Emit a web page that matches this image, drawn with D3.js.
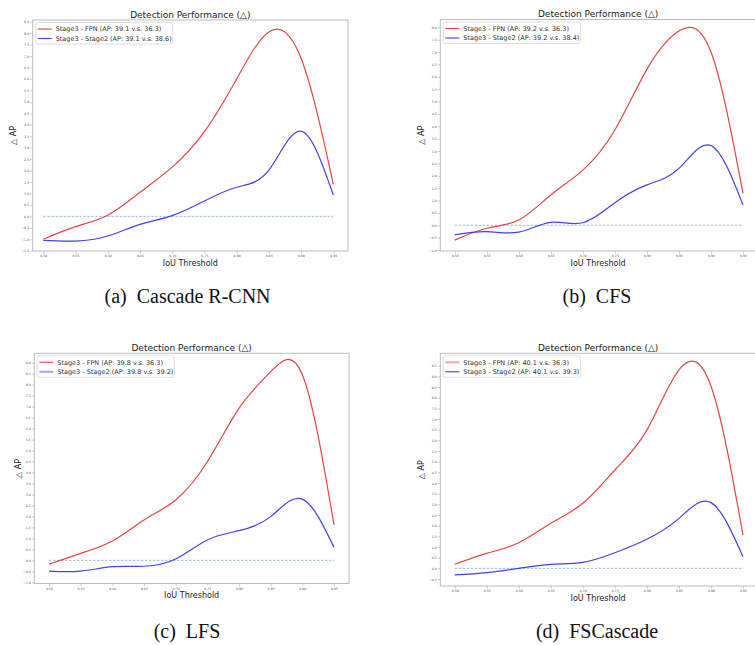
<!DOCTYPE html>
<html>
<head>
<meta charset="utf-8">
<script src="https://cdn.jsdelivr.net/npm/d3@7"></script>
<style>
  body { margin: 0; background: #fff; }
  svg { display: block; }
  .cap { white-space: pre; }
</style>
</head>
<body>
<svg id="fig" width="755" height="645"></svg>
<script>
// x values shared by all four runs
const iouThresholds = [0.50, 0.55, 0.60, 0.65, 0.70, 0.75, 0.80, 0.85, 0.90, 0.95];

// delta AP, one pair of series per method
const fpnDeltaA    = [-1.00, -0.45, 0.05, 1.05, 2.15, 3.70, 6.00, 8.05, 6.90, 1.40];
const stage2DeltaA = [-1.05, -1.08, -0.86, -0.35, 0.03, 0.67, 1.27, 2.02, 3.72, 0.93];
const fpnDeltaB    = [-0.60, -0.12, 0.21, 1.22, 2.23, 3.85, 6.30, 7.85, 7.00, 1.29];
const stage2DeltaB = [-0.39, -0.26, -0.28, 0.12, 0.10, 0.91, 1.63, 2.30, 3.22, 0.82];
const fpnDeltaC    = [-0.18, 0.32, 0.88, 1.84, 2.75, 4.49, 6.92, 8.59, 8.45, 1.61];
const stage2DeltaC = [-0.49, -0.49, -0.29, -0.27, 0.06, 0.93, 1.35, 1.99, 2.79, 0.59];
const fpnDeltaD    = [0.19, 0.70, 1.20, 2.11, 3.05, 4.61, 6.48, 9.30, 8.55, 1.56];
const stage2DeltaD = [-0.31, -0.20, 0.00, 0.19, 0.28, 0.73, 1.36, 2.34, 3.08, 0.54];

// y tick labels of each panel
const yTicksA = [-1.5, -1.0, -0.5, 0.0, 0.5, 1.0, 1.5, 2.0, 2.5, 3.0, 3.5, 4.0, 4.5, 5.0, 5.5, 6.0, 6.5, 7.0, 7.5, 8.0, 8.5];
const yTicksB = [-1.0, -0.5, 0.0, 0.5, 1.0, 1.5, 2.0, 2.5, 3.0, 3.5, 4.0, 4.5, 5.0, 5.5, 6.0, 6.5, 7.0, 7.5, 8.0];
const yTicksC = [-1.0, -0.5, 0.0, 0.5, 1.0, 1.5, 2.0, 2.5, 3.0, 3.5, 4.0, 4.5, 5.0, 5.5, 6.0, 6.5, 7.0, 7.5, 8.0, 8.5, 9.0];
const yTicksD = [-0.5, 0.0, 0.5, 1.0, 1.5, 2.0, 2.5, 3.0, 3.5, 4.0, 4.5, 5.0, 5.5, 6.0, 6.5, 7.0, 7.5, 8.0, 8.5, 9.0, 9.5];

const fpnLegend = [
  "Stage3 - FPN (AP: 39.1 v.s. 36.3)",
  "Stage3 - FPN (AP: 39.2 v.s. 36.3)",
  "Stage3 - FPN (AP: 39.8 v.s. 36.3)",
  "Stage3 - FPN (AP: 40.1 v.s. 36.3)"
];
const stage2Legend = [
  "Stage3 - Stage2 (AP: 39.1 v.s. 38.6)",
  "Stage3 - Stage2 (AP: 39.2 v.s. 38.4)",
  "Stage3 - Stage2 (AP: 39.8 v.s. 39.2)",
  "Stage3 - Stage2 (AP: 40.1 v.s. 39.3)"
];
const captions = ["(a)  Cascade R-CNN", "(b)  CFS", "(c)  LFS", "(d)  FSCascade"];
const titleText = "Detection Performance (\u25B3)";

const RED = "#e24646", BLUE = "#4343e6";

// pixel layout of the four sub figures
const layout = [
  { box: [32.7, 20, 348, 251],   xPx: [43.3, 333.3], yPx: [250.7, 21.7], ylabX: 13.3, capX: 187.5, capY: 303 },
  { box: [440.3, 19.5, 757, 251], xPx: [454.7, 743], yPx: [250, 27.3],   ylabX: 421.3, capX: 597, capY: 303 },
  { box: [34.3, 353.3, 349, 583.5], xPx: [49, 334],  yPx: [582.3, 362.7], ylabX: 18.3, capX: 187, capY: 638 },
  { box: [440.3, 353.3, 757, 586], xPx: [454.7, 743], yPx: [579, 365.7], ylabX: 421.3, capX: 597, capY: 638 }
];
const panels = [
  { fpn: fpnDeltaA, st2: stage2DeltaA, ticks: yTicksA },
  { fpn: fpnDeltaB, st2: stage2DeltaB, ticks: yTicksB },
  { fpn: fpnDeltaC, st2: stage2DeltaC, ticks: yTicksC, fadeSt2Key: true },
  { fpn: fpnDeltaD, st2: stage2DeltaD, ticks: yTicksD, fadeFpnKey: true }
];

const svg = d3.select("#fig");
const sans = "DejaVu Sans, sans-serif";

panels.forEach((p, i) => {
  const L = layout[i];
  const [bx0, by0, bx1, by1] = L.box;
  const g = svg.append("g");

  const x = d3.scaleLinear()
    .domain([iouThresholds[0], iouThresholds[iouThresholds.length - 1]])
    .range(L.xPx);
  const y = d3.scaleLinear()
    .domain([p.ticks[0], p.ticks[p.ticks.length - 1]])
    .range(L.yPx);

  // frame
  g.append("rect")
    .attr("x", bx0).attr("y", by0)
    .attr("width", bx1 - bx0).attr("height", by1 - by0)
    .attr("fill", "none").attr("stroke", "#bdbdbd").attr("stroke-width", 1);

  // axes
  const yAxis = g.append("g")
    .attr("transform", `translate(${bx0},0)`)
    .call(d3.axisLeft(y).tickValues(p.ticks).tickSize(2.5).tickPadding(1).tickFormat(d3.format(".1f")));
  const xAxis = g.append("g")
    .attr("transform", `translate(0,${by1})`)
    .call(d3.axisBottom(x).tickValues(iouThresholds).tickSize(2.5).tickPadding(1.5).tickFormat(d3.format(".2f")));
  [yAxis, xAxis].forEach(a => {
    a.select(".domain").remove();
    a.selectAll("line").attr("stroke", "#999").attr("stroke-width", 0.5);
    a.selectAll("text").attr("fill", "#555").style("font-family", sans).style("font-size", "3.2px");
  });

  // zero reference
  g.append("line")
    .attr("x1", x(iouThresholds[0])).attr("x2", x(iouThresholds[iouThresholds.length - 1]))
    .attr("y1", y(0)).attr("y2", y(0))
    .attr("stroke", "#8db6de").attr("stroke-width", 0.9).attr("stroke-dasharray", "2.5,1.5");

  const line = d3.line()
    .x((d, k) => x(iouThresholds[k]))
    .y(d => y(d))
    .curve(d3.curveNatural);

  g.append("path").datum(p.fpn).attr("d", line)
    .attr("fill", "none").attr("stroke", RED).attr("stroke-width", 1.2);
  g.append("path").datum(p.st2).attr("d", line)
    .attr("fill", "none").attr("stroke", BLUE).attr("stroke-width", 1.2);

  // title and axis labels
  g.append("text")
    .attr("x", (bx0 + Math.min(bx1, 756)) / 2).attr("y", by0 - 2.5)
    .attr("text-anchor", "middle").attr("fill", "#222")
    .style("font-family", sans).style("font-size", "9px")
    .text(titleText);
  g.append("text")
    .attr("x", (bx0 + Math.min(bx1, 756)) / 2).attr("y", by1 + 14.5)
    .attr("text-anchor", "middle").attr("fill", "#222")
    .style("font-family", sans).style("font-size", "8px")
    .text("IoU Threshold");
  g.append("text")
    .attr("transform", `translate(${L.ylabX},${(by0 + by1) / 2}) rotate(-90)`)
    .attr("dy", "0.35em")
    .attr("text-anchor", "middle").attr("fill", "#222")
    .style("font-family", sans).style("font-size", "8px")
    .text("\u25B3 AP");

  // legend
  const lg = g.append("g").attr("transform", `translate(${bx0 + 3},${by0 + 2.5})`);
  lg.append("rect")
    .attr("width", 137).attr("height", 21.5).attr("rx", 1.5)
    .attr("fill", "#fff").attr("stroke", "#d6d6d6").attr("stroke-width", 0.8);
  const keys = [
    { text: fpnLegend[i], color: RED, faded: p.fadeFpnKey },
    { text: stage2Legend[i], color: BLUE, faded: p.fadeSt2Key }
  ];
  keys.forEach((k, j) => {
    const ky = 6.5 + j * 9.5;
    lg.append("line")
      .attr("x1", 2).attr("x2", 16).attr("y1", ky).attr("y2", ky)
      .attr("stroke", k.color)
      .attr("stroke-width", k.faded ? 2.2 : 1.1)
      .attr("stroke-opacity", k.faded ? 0.45 : 1);
    lg.append("text")
      .attr("x", 20).attr("y", ky).attr("dy", "0.35em")
      .attr("fill", "#333")
      .style("font-family", sans).style("font-size", "6.5px")
      .text(k.text);
  });

  // caption under the sub figure
  g.append("text")
    .attr("class", "cap")
    .attr("x", L.capX).attr("y", L.capY)
    .attr("text-anchor", "middle").attr("fill", "#111")
    .style("font-family", "Liberation Serif, Times New Roman, serif").style("font-size", "20px")
    .text(captions[i]);
});
</script>
</body>
</html>
